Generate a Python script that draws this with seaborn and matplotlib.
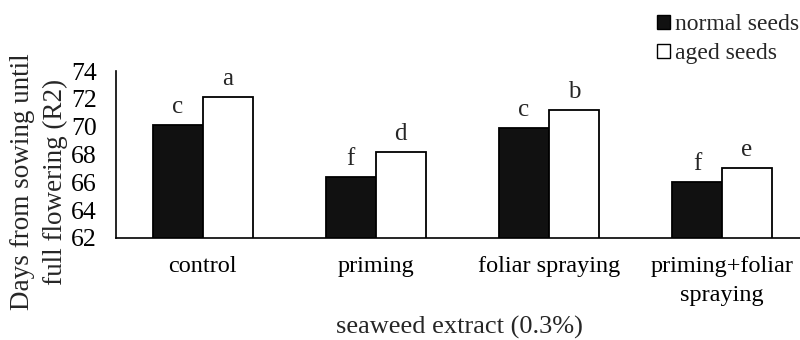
import matplotlib
matplotlib.use("Agg")
import matplotlib.pyplot as plt
import seaborn as sns
import pandas as pd
from matplotlib.patches import Patch

categories = ["control", "priming", "foliar spraying", "priming+foliar\nspraying"]
series = ["normal seeds", "aged seeds"]
normal_values = [70.1, 66.4, 69.9, 66.0]
aged_values = [72.1, 68.2, 71.2, 67.0]
normal_letters = ["c", "f", "c", "f"]
aged_letters = ["a", "d", "b", "e"]
y_ticks = [62, 64, 66, 68, 70, 72, 74]

df = pd.DataFrame({
    "category": categories * 2,
    "series": [series[0]] * 4 + [series[1]] * 4,
    "value": normal_values + aged_values,
})

sns.set_theme(style="white")
plt.rcParams["font.family"] = ["Liberation Serif", "DejaVu Serif"]

fig = plt.figure(figsize=(8, 3.4), dpi=100)
ax = fig.add_axes([116/800, 1-238/340, 1-116/800, (238-71)/340])

sns.barplot(data=df, x="category", y="value", hue="series", order=categories,
            hue_order=series, palette={series[0]: "#111111", series[1]: "white"},
            edgecolor="black", linewidth=1.3, width=0.577, gap=0, legend=False,
            errorbar=None, ax=ax, saturation=1)

ax.set_ylim(62, 74)
ax.set_xlim(-0.5, 3.45)
ax.set_yticks(y_ticks)
ax.set_yticklabels([str(t) for t in y_ticks])
ax.tick_params(axis="both", length=0, colors="black")
ax.tick_params(axis="y", pad=14, labelsize=18.5)
ax.tick_params(axis="x", pad=13, labelsize=17.5)
for lab in ax.get_xticklabels():
    lab.set_linespacing(1.5)
for s in ["top", "right"]:
    ax.spines[s].set_visible(False)
for s in ["left", "bottom"]:
    ax.spines[s].set_color("black")
    ax.spines[s].set_linewidth(1.2)
ax.set_xlabel("")
ax.set_ylabel("")

for cont, labs in zip(ax.containers, [normal_letters, aged_letters]):
    ax.bar_label(cont, labels=labs, padding=5, fontsize=18)

fig.text(459/800, 1-327/340, "seaweed extract (0.3%)", ha="center", va="center", fontsize=19)
fig.text(39/800, 1-182/340, "Days from sowing until\nfull flowering (R2)", rotation=90,
         ha="center", va="center", multialignment="center", fontsize=19.5, linespacing=1.4)

handles = [Patch(facecolor="#111111", edgecolor="black", label=series[0]),
           Patch(facecolor="white", edgecolor="black", label=series[1])]
fig.legend(handles=handles, loc="upper left", bbox_to_anchor=(657/800, 1-14/340), frameon=False,
           fontsize=17, handlelength=0.55, handleheight=0.55, handletextpad=0.2,
           labelspacing=0.35, borderaxespad=0, borderpad=0)

fig.savefig("out.png", dpi=100)
